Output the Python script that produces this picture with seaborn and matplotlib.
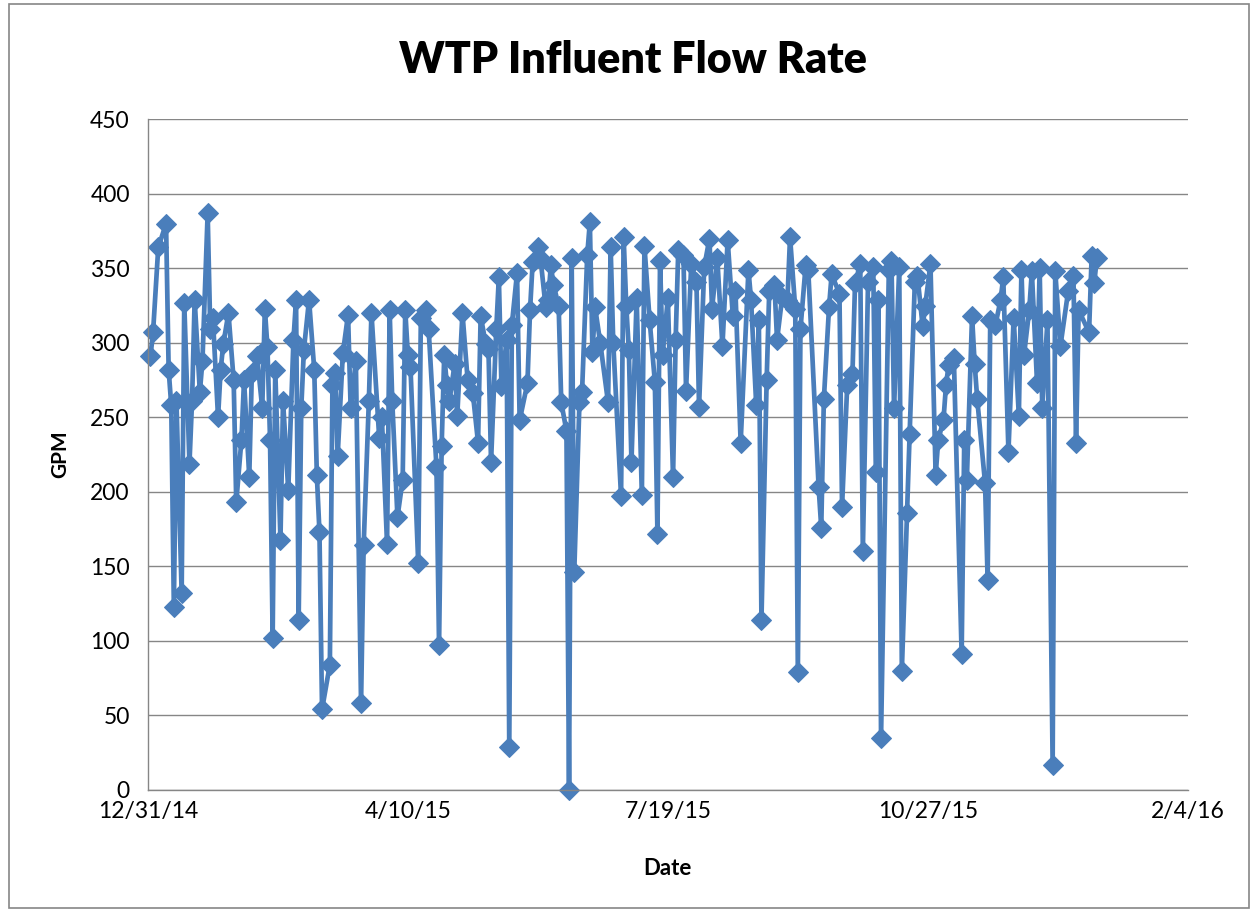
import pandas as pd
import matplotlib.pyplot as plt
import matplotlib.dates as mdates
from matplotlib.patches import Rectangle
import seaborn as sns

# day offsets from 12/31/14 and flow readings (GPM)
days = [1, 2, 4, 7, 8, 9, 10, 11, 13, 14, 16, 17, 18, 20, 21, 23, 24, 25, 27, 28,
        29, 31, 33, 34, 36, 37, 39, 40, 42, 44, 45, 46, 47, 48, 49, 51, 52, 54, 56, 57,
        58, 59, 60, 62, 64, 65, 66, 67, 70, 71, 72, 73, 75, 77, 78, 80, 82, 83, 85, 86,
        89, 90, 92, 93, 94, 96, 98, 99, 100, 101, 104, 105, 107, 108, 111, 112, 113, 114, 115, 116,
        118, 119, 121, 123, 125, 127, 128, 130, 131, 132, 134, 135, 136, 138, 139, 140, 142, 143, 146, 147,
        148, 150, 151, 153, 154, 155, 156, 158, 159, 161, 162, 163, 164, 166, 167, 169, 170, 171, 172, 174,
        177, 178, 179, 182, 183, 184, 185, 186, 188, 190, 191, 193, 195, 196, 197, 198, 200, 202, 203, 204,
        206, 207, 209, 211, 212, 214, 216, 217, 219, 221, 223, 225, 226, 228, 231, 232, 234, 235, 236, 238,
        239, 241, 242, 244, 246, 247, 249, 250, 251, 253, 254, 258, 259, 260, 262, 263, 266, 267, 269, 271,
        272, 274, 275, 277, 279, 280, 281, 282, 285, 286, 287, 289, 290, 292, 293, 295, 296, 298, 299, 301,
        303, 304, 306, 307, 308, 310, 313, 314, 315, 317, 318, 319, 322, 323, 324, 326, 328, 329, 331, 333,
        335, 336, 337, 339, 340, 342, 343, 344, 346, 348, 349, 351, 354, 356, 357, 358, 362, 363, 364, 365]

gpm = [291, 307, 364, 380, 282, 258, 123, 261, 132, 327, 219, 261, 329, 267, 288, 387, 309, 317, 250, 282,
       299, 320, 275, 193, 235, 275, 210, 280, 291, 256, 323, 297, 235, 102, 282, 168, 261, 201, 302, 329,
       114, 256, 295, 329, 282, 211, 173, 54, 84, 272, 280, 224, 293, 319, 256, 288, 58, 164, 261, 320,
       236, 250, 165, 322, 261, 183, 208, 322, 292, 284, 152, 317, 322, 309, 217, 97, 231, 292, 272, 261,
       286, 251, 320, 275, 266, 233, 318, 299, 296, 220, 309, 344, 271, 302, 29, 312, 347, 248, 273, 322,
       354, 364, 357, 324, 329, 352, 339, 325, 260, 241, 0, 357, 146, 260, 267, 359, 381, 294, 324, 300,
       260, 364, 300, 197, 371, 325, 295, 220, 330, 198, 365, 315, 274, 172, 355, 292, 330, 210, 302, 362,
       359, 268, 353, 341, 257, 351, 370, 323, 357, 298, 369, 318, 335, 233, 349, 329, 258, 315, 114, 275,
       335, 339, 302, 331, 329, 371, 323, 79, 309, 352, 349, 203, 176, 262, 324, 346, 333, 190, 272, 279,
       340, 353, 160, 341, 351, 213, 329, 35, 349, 355, 256, 351, 80, 186, 239, 341, 345, 311, 325, 353,
       211, 235, 248, 272, 285, 290, 91, 235, 208, 318, 286, 262, 206, 141, 315, 312, 329, 344, 227, 317,
       251, 349, 292, 322, 348, 273, 350, 256, 315, 17, 348, 298, 335, 345, 233, 322, 307, 358, 340, 357]

tick_dates = ['2014-12-31', '2015-04-10', '2015-07-19', '2015-10-27', '2016-02-04']

df = pd.DataFrame({'Date': pd.Timestamp('2014-12-31') + pd.to_timedelta(days, unit='D'),
                   'GPM': gpm})

sns.set_style('white')
plt.rcParams['font.family'] = ['Lato', 'DejaVu Sans']
plt.rcParams['text.color'] = 'black'
plt.rcParams['axes.labelcolor'] = 'black'

fig = plt.figure(figsize=(12.53, 9.11), dpi=100)
ax = fig.add_axes([0.118, 0.133, 0.83, 0.736])

blue = '#4A7EBB'
sns.lineplot(data=df, x='Date', y='GPM', sort=False, estimator=None,
             color=blue, linewidth=3.4, marker='D', markersize=10.5,
             markeredgecolor=blue, ax=ax, clip_on=False)

ax.set_xlim(pd.Timestamp(tick_dates[0]), pd.Timestamp(tick_dates[-1]))
ax.set_ylim(0, 450)
ax.set_xticks(pd.to_datetime(tick_dates))
ax.xaxis.set_major_formatter(mdates.DateFormatter('%-m/%-d/%y'))
ax.set_yticks(range(0, 451, 50))

ax.grid(axis='y', color='#868686', linewidth=1)
ax.grid(axis='x', visible=False)
ax.set_axisbelow(True)
for side in ['top', 'right']:
    ax.spines[side].set_visible(False)
for side in ['left', 'bottom']:
    ax.spines[side].set_color('#868686')
    ax.spines[side].set_linewidth(1)

ax.tick_params(axis='both', labelsize=16.5, colors='#868686', labelcolor='black',
               length=4, width=1, direction='out')
ax.tick_params(axis='x', pad=4)
ax.tick_params(axis='y', pad=9)

ax.set_xlabel('Date', fontsize=16, fontweight='bold', labelpad=26)
ax.set_ylabel('GPM', fontsize=15, fontweight='bold', labelpad=14)
fig.text(0.505, 0.934, 'WTP Influent Flow Rate', fontsize=31, fontweight='heavy',
         ha='center', va='center')

# outer chart border
fig.patches.append(Rectangle((0.007, 0.003), 0.99, 0.993, transform=fig.transFigure,
                             fill=False, edgecolor='#868686', linewidth=1.2))

fig.savefig('out.png', dpi=100)
